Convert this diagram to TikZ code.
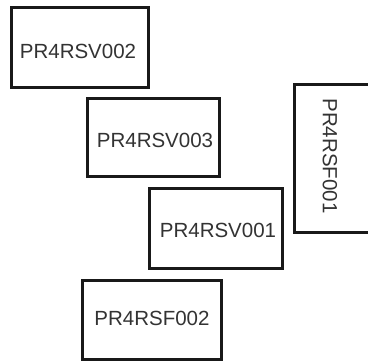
\documentclass[tikz,border=0pt]{standalone}
\usepackage{fontspec}
\setmainfont{Liberation Sans}
\begin{document}
\begin{tikzpicture}[x=1pt,y=1pt,
  box/.style={draw=black!90, line width=3pt, fill=white, rectangle, inner sep=0pt},
  lbl/.style={text=black!80, font=\fontsize{20.5}{24}\selectfont, inner sep=0pt}]
\useasboundingbox (0,0) rectangle (368,360);
\clip (0,0) rectangle (368,360);
% boxes (y flipped: 360 - y)
\node[box, minimum width=137pt, minimum height=80pt] (b1) at (80.5,313) {};
\node[lbl] (t1) at (78,309) {PR4RSV002};
\node[box, minimum width=132pt, minimum height=78pt] (b2) at (154,223) {};
\node[lbl] (t2) at (155,220) {PR4RSV003};
\node[box, minimum width=133pt, minimum height=80pt] (b3) at (216.5,132) {};
\node[lbl] (t3) at (218,130) {PR4RSV001};
\node[box, minimum width=139pt, minimum height=79pt] (b4) at (152.5,40.5) {};
\node[lbl] (t4) at (152,42) {PR4RSF002};
\node[box, minimum width=77pt, minimum height=148pt] (b5) at (333.5,202) {};
\node[lbl, rotate=-90] (t5) at (330,204) {PR4RSF001};
\end{tikzpicture}
\end{document}
